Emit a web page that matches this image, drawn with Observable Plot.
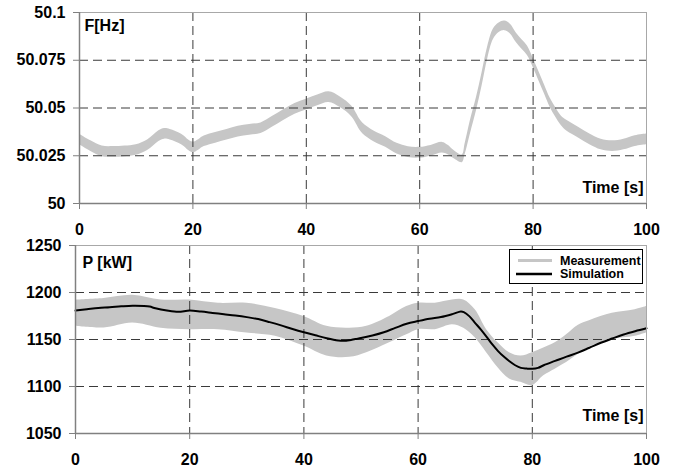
<!DOCTYPE html>
<html>
<head>
<meta charset="utf-8">
<script src="https://cdn.jsdelivr.net/npm/d3@7"></script>
<script src="https://cdn.jsdelivr.net/npm/@observablehq/plot@0.6"></script>
<style>
  html, body { margin: 0; padding: 0; background: #fff; }
  #wrap { position: relative; width: 683px; height: 473px; overflow: hidden; font-family: "Liberation Sans", Arial, sans-serif; }
  #wrap > svg { position: absolute; left: 0; }
  #legend { position: absolute; left: 509px; top: 249px; width: 132px; height: 33px; border: 1px solid #000; background: #fff; }
  #legend svg { position: absolute; left: 0; top: 0; }
</style>
</head>
<body>
<div id="wrap"></div>
<script>
// ---- shared axis values ----
const xTicks = [0, 20, 40, 60, 80, 100];
const xGrid = [20, 40, 60, 80];

// ---- frequency panel ----
const fTicks = [50, 50.025, 50.05, 50.075, 50.1];
const fTickLabels = ["50", "50.025", "50.05", "50.075", "50.1"];
const fGrid = [50.025, 50.05, 50.075];
const fTime = [0, 2, 4, 6, 8, 10, 12, 14, 15, 16, 18, 20, 22, 24, 26, 28, 30, 32, 34, 36, 38, 40, 42, 44, 46, 48, 49.5, 50, 52, 54, 56, 58, 60, 62, 64, 65, 66, 67.5, 68, 69, 70, 71, 72, 73, 74, 75, 76, 77, 78, 79, 80, 81, 82, 83, 84, 85, 86, 88, 90, 92, 94, 96, 98, 100];
const fMid = [50.0335, 50.030, 50.0273, 50.027, 50.0273, 50.028, 50.0305, 50.0353, 50.0365, 50.036, 50.0335, 50.0294, 50.0326, 50.0344, 50.036, 50.0376, 50.0385, 50.0394, 50.0427, 50.0463, 50.0495, 50.0518, 50.054, 50.0557, 50.053, 50.0482, 50.041, 50.0392, 50.035, 50.0322, 50.0287, 50.0269, 50.0266, 50.0276, 50.0292, 50.028, 50.0257, 50.0234, 50.0283, 50.0406, 50.0519, 50.065, 50.079, 50.0886, 50.092, 50.093, 50.0913, 50.0869, 50.0834, 50.080, 50.0738, 50.0668, 50.0598, 50.0528, 50.0476, 50.0432, 50.0406, 50.0371, 50.0336, 50.0309, 50.030, 50.0309, 50.0327, 50.0336];
const fSpread = [0.0028, 0.0028, 0.0028, 0.0028, 0.0028, 0.0028, 0.0028, 0.0028, 0.0028, 0.0028, 0.0028, 0.0028, 0.0028, 0.0028, 0.0028, 0.0028, 0.0028, 0.0028, 0.0028, 0.0028, 0.0028, 0.0028, 0.0028, 0.0028, 0.0028, 0.0028, 0.0028, 0.0028, 0.0028, 0.0028, 0.0028, 0.0028, 0.0028, 0.0028, 0.0028, 0.0025, 0.0022, 0.002, 0.0028, 0.0035, 0.0035, 0.0035, 0.0032, 0.0028, 0.0025, 0.0025, 0.0025, 0.0025, 0.0025, 0.0025, 0.0024, 0.0024, 0.0024, 0.0024, 0.0025, 0.0025, 0.0028, 0.0028, 0.0028, 0.0028, 0.0028, 0.0028, 0.0028, 0.0028];

// ---- power panel ----
const pTicks = [1050, 1100, 1150, 1200, 1250];
const pGrid = [1100, 1150, 1200];
const pMeasTime = [0, 5, 10, 15, 20, 25, 30, 35, 40, 44, 48, 51, 55, 58, 60, 63, 66, 68, 70, 72, 74, 76, 78, 80, 82, 84, 86, 88, 90, 92, 94, 96, 98, 100];
const pMeasHi = [1192, 1193.7, 1197, 1192, 1192, 1188.5, 1188.5, 1183, 1174.5, 1164, 1162, 1164, 1174.5, 1185, 1188.6, 1188.6, 1192, 1192, 1181.6, 1160.5, 1146.5, 1136, 1132.5, 1136, 1141, 1146.5, 1155, 1165, 1170, 1174.5, 1178, 1179.8, 1181.6, 1185];
const pMeasLo = [1164, 1162.2, 1167.5, 1162, 1160.5, 1160.5, 1157, 1153.5, 1143, 1132.5, 1131, 1136, 1146.5, 1155, 1160.5, 1160.5, 1165.8, 1162, 1151.8, 1136, 1120, 1108, 1104.4, 1100.9, 1111.4, 1118.4, 1125.4, 1134, 1142, 1146.5, 1150, 1151.8, 1153.5, 1157];
const pSimTime = [0, 2, 4, 6, 8, 10, 12, 13, 14, 16, 18, 20, 22, 24, 26, 28, 30, 32, 34, 36, 38, 40, 42, 44, 46, 47, 48, 49, 50, 52, 54, 56, 58, 60, 62, 64, 66, 67.5, 68, 69, 70, 71, 72, 73, 74, 75, 76, 77, 78, 79, 80, 81, 82, 84, 86, 88, 90, 92, 94, 96, 98, 100];
const pSim = [1180.8, 1182.2, 1183.6, 1184.3, 1185.3, 1186, 1185.7, 1185, 1183.2, 1180.8, 1179.4, 1180.8, 1179.7, 1178.3, 1176.9, 1175.5, 1173.8, 1171.7, 1168.5, 1165, 1161.2, 1157.7, 1154.5, 1151.4, 1149, 1148.6, 1149.3, 1150.5, 1151.5, 1154.2, 1157.7, 1162.3, 1166.8, 1169.6, 1172.1, 1173.9, 1177, 1179.8, 1179.1, 1174.6, 1167.5, 1160.5, 1152.8, 1144.7, 1137.7, 1131.8, 1126.8, 1122.6, 1119.8, 1119.1, 1118.8, 1119.8, 1122.6, 1127.2, 1131.8, 1136, 1141.2, 1146.5, 1151, 1155.3, 1158.8, 1161.9];

const seriesNames = ["Measurement", "Simulation"];
const labels = { f: "F[Hz]", p: "P [kW]", time: "Time [s]" };

// ---- tables ----
const fBand = fTime.map((t, i) => ({ t, lo: fMid[i] - fSpread[i], hi: fMid[i] + fSpread[i] }));
const pBand = pMeasTime.map((t, i) => ({ t, lo: pMeasLo[i], hi: pMeasHi[i] }));
const pSimData = pSimTime.map((t, i) => ({ t, p: pSim[i] }));

const FONT = "'Liberation Sans', Arial, sans-serif";
const plotStyle = { fontFamily: FONT, fontSize: "16px", fontWeight: "bold", color: "#000", background: "transparent" };
const gridStyle = { stroke: "#3a3a3a", strokeOpacity: 1, strokeWidth: 1, strokeDasharray: "9,5" };
const MEAS = "#c6c6c6";

function frameMarks(x0, x1, y0, y1) {
  return [
    Plot.ruleY([y1], { stroke: "#a8a8a8" }),
    Plot.ruleX([x1], { stroke: "#a8a8a8" }),
    Plot.ruleX([x0], { stroke: "#808080", strokeWidth: 1.5 }),
    Plot.ruleY([y0], { stroke: "#808080", strokeWidth: 1.5 })
  ];
}

const freqPlot = Plot.plot({
  width: 683, height: 240,
  marginTop: 12, marginBottom: 37, marginLeft: 79, marginRight: 37,
  style: plotStyle,
  x: { domain: [0, 100] },
  y: { domain: [50, 50.1] },
  marks: [
    Plot.areaY(fBand, { x: "t", y1: "lo", y2: "hi", fill: MEAS, curve: "catmull-rom" }),
    Plot.ruleX(xGrid, gridStyle),
    Plot.ruleY(fGrid, gridStyle),
    ...frameMarks(0, 100, 50, 50.1),
    Plot.axisX(xTicks, { tickSize: 6, tickPadding: 14, stroke: "#808080", fill: "#000", fontSize: 16, fontWeight: "bold", label: null }),
    Plot.axisY(fTicks, { tickSize: 6, tickPadding: 8, stroke: "#808080", fill: "#000", fontSize: 16, fontWeight: "bold", label: null,
      tickFormat: d => fTickLabels[fTicks.indexOf(d)] }),
    Plot.text([labels.f], { text: d => d, frameAnchor: "top-left", dx: 5, dy: 13, textAnchor: "start", lineAnchor: "middle", fontSize: 16, fontWeight: "bold" }),
    Plot.text([labels.time], { text: d => d, frameAnchor: "bottom-right", dx: -3, dy: -16, textAnchor: "end", lineAnchor: "middle", fontSize: 16, fontWeight: "bold" })
  ]
});
freqPlot.style.top = "0px";

const powerPlot = Plot.plot({
  width: 683, height: 243,
  marginTop: 15, marginBottom: 40, marginLeft: 75, marginRight: 37,
  style: plotStyle,
  x: { domain: [0, 100] },
  y: { domain: [1050, 1250] },
  marks: [
    Plot.areaY(pBand, { x: "t", y1: "lo", y2: "hi", fill: MEAS, curve: "catmull-rom" }),
    Plot.ruleX(xGrid, gridStyle),
    Plot.ruleY(pGrid, gridStyle),
    Plot.line(pSimData, { x: "t", y: "p", stroke: "#000", strokeWidth: 2, curve: "catmull-rom" }),
    ...frameMarks(0, 100, 1050, 1250),
    Plot.axisX(xTicks, { tickSize: 6, tickPadding: 14, stroke: "#808080", fill: "#000", fontSize: 16, fontWeight: "bold", label: null }),
    Plot.axisY(pTicks, { tickSize: 6, tickPadding: 8, stroke: "#808080", fill: "#000", fontSize: 16, fontWeight: "bold", label: null,
      tickFormat: d => String(d) }),
    Plot.text([labels.p], { text: d => d, frameAnchor: "top-left", dx: 7, dy: 17, textAnchor: "start", lineAnchor: "middle", fontSize: 16, fontWeight: "bold" }),
    Plot.text([labels.time], { text: d => d, frameAnchor: "bottom-right", dx: -3, dy: -18, textAnchor: "end", lineAnchor: "middle", fontSize: 16, fontWeight: "bold" })
  ]
});
powerPlot.style.top = "230px";

const wrap = document.getElementById("wrap");
wrap.appendChild(freqPlot);
wrap.appendChild(powerPlot);

// ---- legend ----
const legend = document.createElement("div");
legend.id = "legend";
const ns = "http://www.w3.org/2000/svg";
const lsvg = document.createElementNS(ns, "svg");
lsvg.setAttribute("width", 132);
lsvg.setAttribute("height", 33);
const rows = [
  { name: seriesNames[0], color: MEAS, w: 3, x1: 8, y: 10.5 },
  { name: seriesNames[1], color: "#000", w: 2.5, x1: 6, y: 24 }
];
for (const r of rows) {
  const ln = document.createElementNS(ns, "line");
  ln.setAttribute("x1", r.x1); ln.setAttribute("x2", 42);
  ln.setAttribute("y1", r.y); ln.setAttribute("y2", r.y);
  ln.setAttribute("stroke", r.color); ln.setAttribute("stroke-width", r.w);
  lsvg.appendChild(ln);
  const tx = document.createElementNS(ns, "text");
  tx.setAttribute("x", 50); tx.setAttribute("y", r.y);
  tx.setAttribute("dy", "0.35em");
  tx.setAttribute("font-family", FONT);
  tx.setAttribute("font-size", "12.5");
  tx.setAttribute("font-weight", "bold");
  tx.textContent = r.name;
  lsvg.appendChild(tx);
}
legend.appendChild(lsvg);
wrap.appendChild(legend);
</script>
</body>
</html>
